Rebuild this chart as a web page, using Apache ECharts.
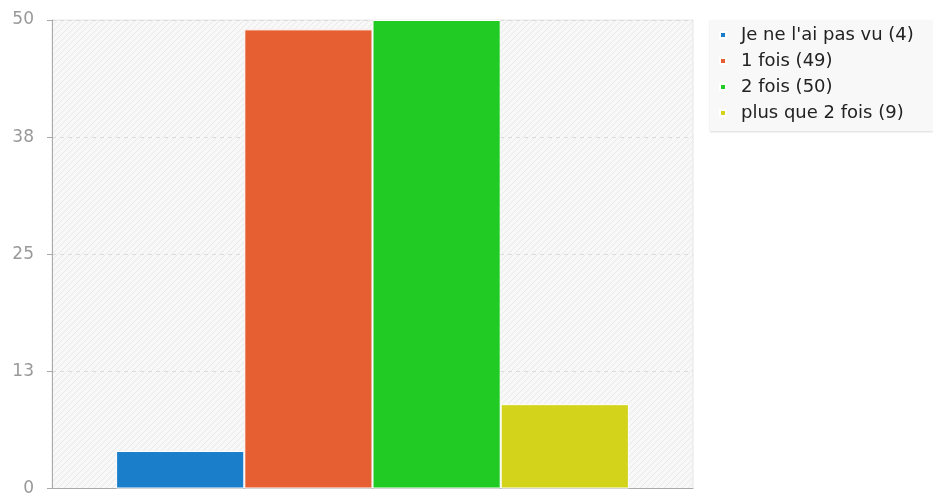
<!DOCTYPE html>
<html>
<head>
<meta charset="utf-8">
<style>html,body{margin:0;padding:0;background:#fff;}#chart{width:933px;height:497px;}</style>
<script src="https://cdn.jsdelivr.net/npm/echarts@6/dist/echarts.min.js"></script>
</head>
<body>
<div id="chart"></div>
<script>
const categories = [''];
const seriesNames = ["Je ne l'ai pas vu (4)", "1 fois (49)", "2 fois (50)", "plus que 2 fois (9)"];
const seriesValues = [4, 49, 50, 9];
const seriesColors = ['#1b7ecb', '#e65f33', '#21cb23', '#d3d31c'];
const tickValues = [0, 12.5, 25, 37.5, 50];

const pc = document.createElement('canvas');
pc.width = 6; pc.height = 6;
const ctx = pc.getContext('2d');
ctx.fillStyle = '#f8f8f8';
ctx.fillRect(0, 0, 6, 6);
ctx.strokeStyle = '#e9e9e9';
ctx.lineWidth = 1;
ctx.beginPath();
ctx.moveTo(0, 6); ctx.lineTo(6, 0);
ctx.moveTo(-3, 3); ctx.lineTo(3, -3);
ctx.moveTo(3, 9); ctx.lineTo(9, 3);
ctx.stroke();

const chart = echarts.init(document.getElementById('chart'));
chart.setOption({
  animation: false,
  textStyle: {fontFamily: 'DejaVu Sans'},
  grid: {left: 52, top: 20, right: 240, bottom: 5, show: true,
    backgroundColor: {image: pc, repeat: 'repeat'}, borderColor: '#e6e6e6', borderWidth: 1},
  graphic: [{type: 'rect', left: 710, top: 20, z: -10,
    shape: {width: 223, height: 111},
    style: {fill: '#f8f8f8', shadowColor: 'rgba(0,0,0,0.15)', shadowBlur: 2, shadowOffsetY: 1}}],
  legend: {orient: 'vertical', left: 719, top: 26, icon: 'rect', itemWidth: 6, itemHeight: 6,
    itemGap: 8, padding: 0,
    textStyle: {fontSize: 18, color: '#222', fontFamily: 'DejaVu Sans', padding: [0, 0, 0, 10]},
    data: seriesNames},
  xAxis: {type: 'category', data: categories,
    axisLine: {lineStyle: {color: '#aaa'}}, axisTick: {show: false}, axisLabel: {show: false}},
  yAxis: {type: 'value', min: 0, max: 50, interval: 12.5,
    axisLine: {show: true, lineStyle: {color: '#aaa'}},
    axisTick: {show: true, length: 5, lineStyle: {color: '#aaa'}},
    axisLabel: {color: '#999', fontSize: 17, margin: 18,
      formatter: v => String(Math.round(v))},
    splitLine: {lineStyle: {color: '#dcdcdc', type: [4, 4]}}},
  series: seriesNames.map((n, i) => ({
    name: n, type: 'bar', data: [seriesValues[i]],
    barGap: '0%', barCategoryGap: '20%',
    itemStyle: {color: seriesColors[i], borderColor: '#fff', borderWidth: 1}
  }))
});
</script>
</body>
</html>
